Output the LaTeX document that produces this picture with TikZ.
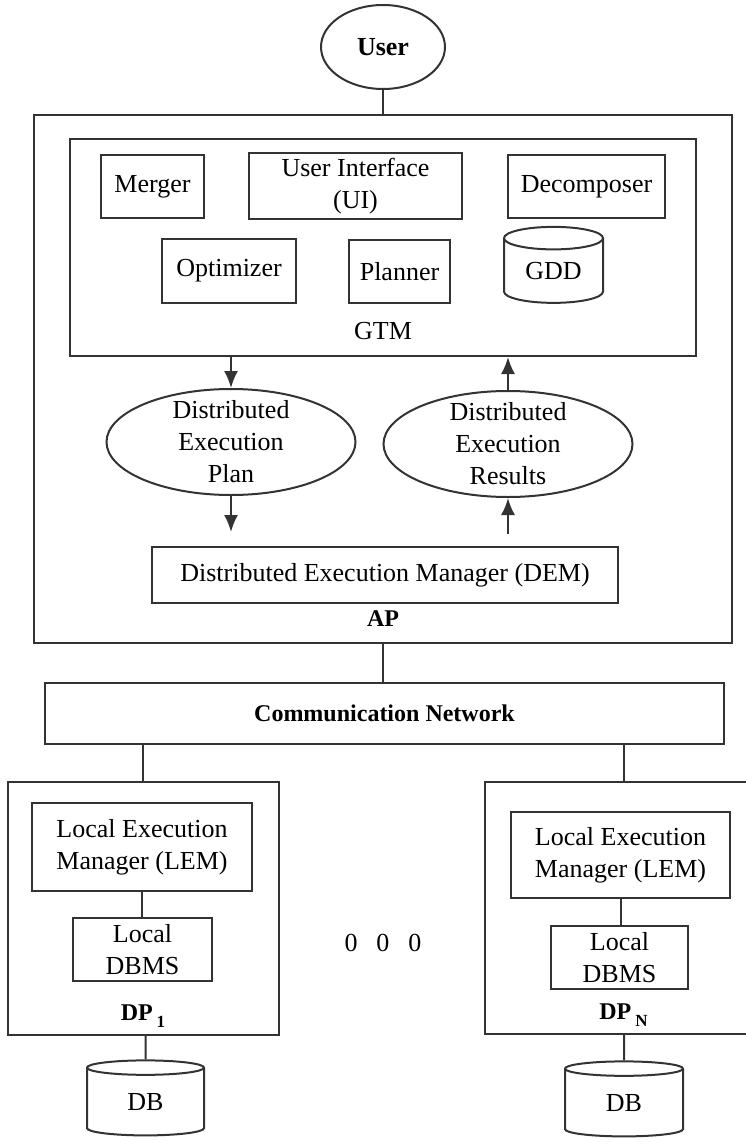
\documentclass[tikz,border=0pt]{standalone}
\usepackage{fontspec}
\setmainfont{Liberation Serif}
\usetikzlibrary{
	shapes.geometric,
	arrows.meta,
	positioning
}

\newcommand{\bodyfont}{\fontsize{26}{32}\selectfont}
\newcommand{\labfont}{\fontsize{24}{28}\selectfont\bfseries}

\begin{document}
\begin{tikzpicture}[
            x=1pt, y=-1pt,
            line width=2pt,
            box/.style={
                draw=black!80,
                rectangle,
                align=center,
                inner sep=2pt,
                font=\bodyfont
            },
            frame/.style={draw=black!80,rectangle},
            oval/.style={draw=black!80,ellipse,inner sep=0pt},
            store/.style={draw=black!80,cylinder,shape border rotate=90,
                aspect=0.4,inner sep=0pt,font=\bodyfont},
            lbl/.style={inner sep=0pt,font=\labfont},
            arr/.style={-{Latex[length=17pt,width=14pt]},draw=black!80},
            link/.style={draw=black!80}
        ]
            \useasboundingbox (0,0) rectangle (746,1142);
            \clip (0,0) rectangle (746,1142);

            % application processor
            \node[oval,minimum width=124pt,minimum height=84pt,
                font=\bodyfont\bfseries] (user) at (383,47) {User};
            \node[frame,minimum width=698pt,minimum height=528pt] (ap) at (383,379) {};
            \node[frame,minimum width=626pt,minimum height=217pt] (gtm) at (383,247.5) {};

            \node[box,minimum width=103pt,minimum height=63pt] (merger) at (152.5,186.5) {Merger};
            \node[box,minimum width=213pt,minimum height=66pt] (ui) at (355.5,186) {User Interface\\(UI)};
            \node[box,minimum width=157pt,minimum height=63pt] (decomposer) at (586.5,186.5) {Decomposer};
            \node[box,minimum width=134pt,minimum height=64pt] (optimizer) at (229,271) {Optimizer};
            \node[box,minimum width=101pt,minimum height=63pt] (planner) at (399.5,271.5) {Planner};
            \node[store,minimum width=99pt,minimum height=76pt] (gdd) at (553.5,271) {GDD};
            \node[inner sep=0pt,font=\bodyfont] (gtmlbl) at (383,331) {GTM};

            \node[oval,minimum width=249pt,minimum height=106pt,
                label={[align=center,font=\bodyfont]center:Distributed\\Execution\\Plan}]
                (plan) at (231,442) {};
            \node[oval,minimum width=249pt,minimum height=106pt,
                label={[align=center,font=\bodyfont]center:Distributed\\Execution\\Results}]
                (results) at (508,444) {};

            \node[box,minimum width=466pt,minimum height=56pt] (dem) at (385,575)
            {Distributed Execution Manager (DEM)};
            \node[lbl] (aplbl) at (383,619) {AP};

            \node[box,minimum width=679pt,minimum height=61pt,font=\labfont] (comm)
            at (384.5,713.5) {Communication Network};

            % data processors
            \node[frame,minimum width=271pt,minimum height=253pt] (dp1) at (143,908.5) {};
            \node[box,minimum width=220pt,minimum height=88pt] (lem1) at (142,847)
            {Local Execution\\Manager (LEM)};
            \node[box,minimum width=139pt,minimum height=63pt] (dbms1) at (142.5,949.5) {Local\\DBMS};
            \node[lbl,above=8pt of dp1.south] (dp1lbl)
            {DP\,\raisebox{-7pt}{\fontsize{17}{20}\selectfont 1}};
            \node[store,minimum width=117pt,minimum height=75pt] (db1) at (145.5,1102) {DB};

            \node[inner sep=0pt,font=\bodyfont] (dots) at (383,943) {0\hspace{19pt}0\hspace{19pt}0};

            \node[frame,minimum width=277pt,minimum height=252pt] (dpn) at (623.5,908) {};
            \node[box,minimum width=219pt,minimum height=86pt] (lemn) at (620.5,855)
            {Local Execution\\Manager (LEM)};
            \node[box,minimum width=137pt,minimum height=63pt] (dbmsn) at (619.5,957.5) {Local\\DBMS};
            \node[lbl,above=8pt of dpn.south] (dpnlbl)
            {DP\,\raisebox{-7pt}{\fontsize{17}{20}\selectfont N}};
            \node[store,minimum width=118pt,minimum height=75pt] (dbn) at (624,1103) {DB};

            \draw[link] (user) -- (ap);
            \draw[arr] (gtm.south -| plan) -- (plan);
            \draw[arr,shorten >=14pt] (plan) -- (plan |- dem.north);
            \draw[arr,shorten <=12pt] (results |- dem.north) -- (results);
            \draw[arr] (results) -- (results |- gtm.south);
            \draw[link] (ap.south) -- (ap.south |- comm.north);
            \draw[link] (dp1 |- comm.south) -- (dp1);
            \draw[link] (dpn |- comm.south) -- (dpn);
            \draw[link] (lem1) -- (lem1 |- dbms1.north);
            \draw[link] (lemn) -- (lemn |- dbmsn.north);
            \draw[link] (db1 |- dp1.south) -- (db1);
            \draw[link] (dbn |- dpn.south) -- (dbn);
        \end{tikzpicture}
\end{document}
